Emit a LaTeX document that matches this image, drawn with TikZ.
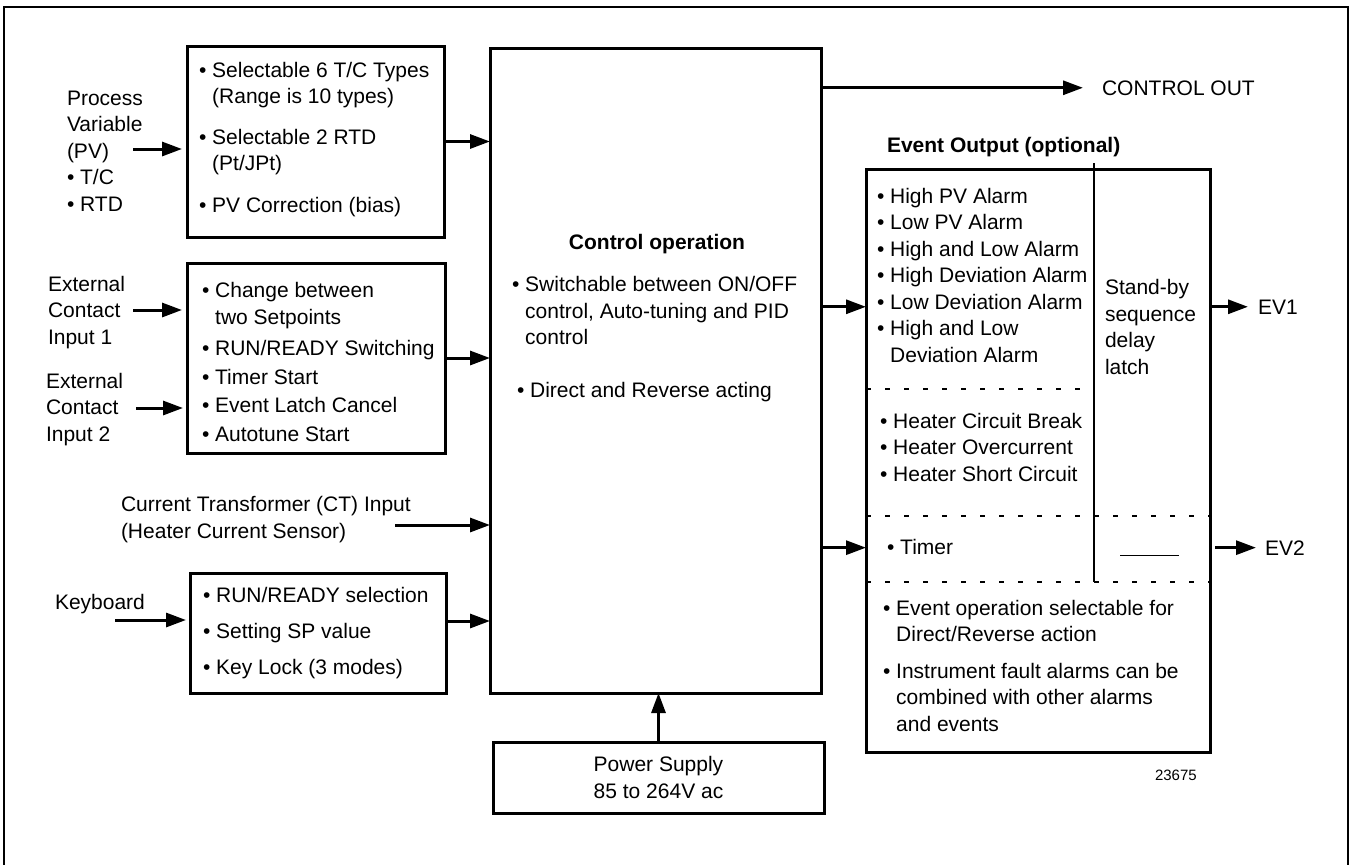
\documentclass[tikz,border=0pt]{standalone}
\usepackage{fontspec}
\setmainfont{Liberation Sans}
\usetikzlibrary{arrows.meta}

\newcommand{\bul}{\textbullet\ }
\newcommand{\ind}{\hphantom{\textbullet\ }}

\tikzset{
    every node/.style={inner sep=0,outer sep=0,font=\fontsize{21}{26.5}\selectfont},
    blk/.style={draw,line width=3pt},
    txt/.style={align=left,anchor=base west},
    bold_txt/.style={txt,font=\fontsize{21}{26.5}\selectfont\bfseries},
    arr/.style={line width=3pt,-{Triangle[length=20pt,width=14pt]}},
    sep_line/.style={line width=2.5pt,dash pattern=on 5pt off 14pt}
}

\begin{document}
\begin{tikzpicture}[x=1pt,y=-1pt]
    \useasboundingbox (0,0) rectangle (1353,865);
    \draw[line width=2pt] (4,880) -- (4,7) -- (1348,7) -- (1348,880);

    \node[blk,minimum width=257pt,minimum height=191pt] (pv_box) at (315.5,141.5) {};
    \node[blk,minimum width=258pt,minimum height=190pt] (sp_box) at (316,358) {};
    \node[blk,minimum width=256pt,minimum height=120pt] (kb_box) at (318,633) {};
    \node[blk,minimum width=331pt,minimum height=645pt] (ctrl_box) at (655.5,370.5) {};
    \node[blk,minimum width=344pt,minimum height=583pt] (ev_box) at (1038,460.5) {};
    \node[blk,minimum width=331pt,minimum height=71pt,align=center] (pwr_box) at (658.5,777.5) {Power Supply\\85 to 264V ac};

    \node[txt] (pv_label) at (67,211) {Process\\Variable\\(PV)\\\bul T/C\\\bul RTD};
    \node[txt] (pv_text) at (199,212) {\bul Selectable 6 T/C Types\\\ind(Range is 10 types)\\[14pt]\bul Selectable 2 RTD\\\ind(Pt/JPt)\\[15pt]\bul PV Correction (bias)};
    \node[txt] (ext1_label) at (48,344) {External\\Contact\\Input 1};
    \node[txt] (ext2_label) at (46,441) {External\\Contact\\Input 2};
    \node[txt] (sp_text) at (202,441) {\bul Change between\\\ind two Setpoints\\[5pt]\bul RUN/READY Switching\\[2pt]\bul Timer Start\\[2pt]\bul Event Latch Cancel\\[2pt]\bul Autotune Start};
    \node[txt] (ct_label) at (121,538) {Current Transformer (CT) Input\\(Heater Current Sensor)};
    \node[txt] (kb_label) at (55,609) {Keyboard};
    \node[txt] (kb_text) at (203,674) {\bul RUN/READY selection\\[10pt]\bul Setting SP value\\[9pt]\bul Key Lock (3 modes)};

    \node[bold_txt,anchor=base] (ctrl_head) at (657,249) {Control operation};
    \node[txt] (ctrl_text) at (512,397) {\bul Switchable between ON/OFF\\\ind control, Auto-tuning and PID\\\ind control\\[26pt]\hspace*{5pt}\bul Direct and Reverse acting};

    \node[txt] (ctrl_out) at (1102,95) {CONTROL OUT};
    \node[bold_txt] (ev_head) at (887,152) {Event Output (optional)};
    \node[txt] (alarm_text) at (877,362) {\bul High PV Alarm\\\bul Low PV Alarm\\\bul High and Low Alarm\\\bul High Deviation Alarm\\\bul Low Deviation Alarm\\\bul High and Low\\\ind Deviation Alarm};
    \node[txt] (standby_text) at (1105,374) {Stand-by\\sequence\\delay\\latch};
    \node[txt] (heater_text) at (880,481) {\bul Heater Circuit Break\\\bul Heater Overcurrent\\\bul Heater Short Circuit};
    \node[txt] (timer_text) at (887,554) {\bul Timer};
    \node[txt] (note_text) at (883,731) {\bul Event operation selectable for\\\ind Direct/Reverse action\\[10pt]\bul Instrument fault alarms can be\\\ind combined with other alarms\\\ind and events};
    \node[txt] (ev1_label) at (1258,314) {EV1};
    \node[txt] (ev2_label) at (1265,555) {EV2};
    \node[txt,font=\fontsize{15}{18}\selectfont] (fig_no) at (1155,780) {23675};

    \draw[line width=2.5pt] (1094,163) -- (1094,582);
    \draw[sep_line] (866,389) -- (1094,389);
    \draw[sep_line] (866,516) -- (1210,516);
    \draw[sep_line] (866,582) -- (1210,582);
    \draw[line width=1pt] (1120,555) -- (1179,555);

    \coordinate (pv_in) at (133,149);
    \coordinate (ext1_in) at (133,310);
    \coordinate (ext2_in) at (136,408);
    \coordinate (ct_in) at (395,525);
    \coordinate (kb_in) at (115,620);
    \coordinate (kb_out) at ([yshift=12pt]kb_box.east);

    \draw[arr,shorten >=5pt] (pv_in) -- (pv_in -| pv_box.west);
    \draw[arr,shorten >=5pt] (ext1_in) -- (ext1_in -| sp_box.west);
    \draw[arr,shorten >=4pt] (ext2_in) -- (ext2_in -| sp_box.west);
    \draw[arr,shorten >=4pt] (kb_in) -- (kb_in -| kb_box.west);
    \draw[arr] (ct_in) -- (ct_in -| ctrl_box.west);
    \draw[arr] (pv_box.east) -- (pv_box.east -| ctrl_box.west);
    \draw[arr] (sp_box.east) -- (sp_box.east -| ctrl_box.west);
    \draw[arr] (kb_out) -- (kb_out -| ctrl_box.west);
    \draw[arr] (pwr_box.north) -- (pwr_box.north |- ctrl_box.south);
    \draw[arr,shorten >=19pt] (ctrl_out.west -| ctrl_box.east) -- (ctrl_out.west);
    \draw[arr] (ev1_label.west -| ctrl_box.east) -- (ev1_label.west -| ev_box.west);
    \draw[arr] (ev2_label.west -| ctrl_box.east) -- (ev2_label.west -| ev_box.west);
    \draw[arr,shorten >=10pt] (ev1_label.west -| ev_box.east) -- (ev1_label.west);
    \draw[arr,shorten <=5pt,shorten >=9pt] (ev2_label.west -| ev_box.east) -- (ev2_label.west);
\end{tikzpicture}
\end{document}
